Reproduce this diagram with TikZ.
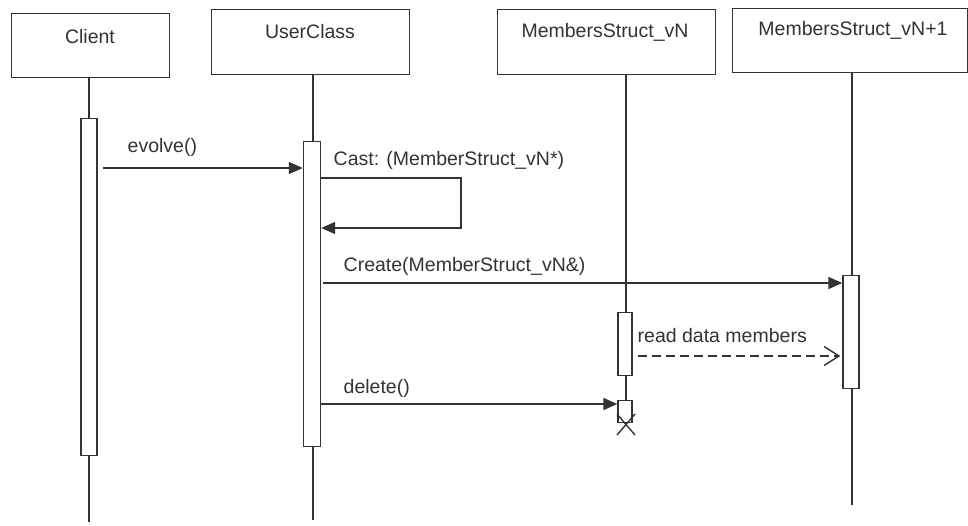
\documentclass[tikz,border=0pt]{standalone}
\usepackage{fontspec}
\setmainfont{Liberation Sans}
\usetikzlibrary{arrows.meta,calc}
\definecolor{ink}{HTML}{333333}
\begin{document}
\begin{tikzpicture}[x=1pt,y=-1pt,line width=1.4pt,
  hdr/.style={draw=ink,fill=white,rectangle,inner sep=0pt,anchor=north west},
  act/.style={draw=ink,fill=white,rectangle,inner sep=0pt,anchor=north},
  lbl/.style={text=ink,inner sep=0pt,font=\fontsize{19.5}{23}\selectfont},
  life/.style={draw=ink},
  msg/.style={draw=ink,-{Triangle[length=14pt,width=12pt]}},
  reply/.style={draw=ink,dash pattern=on 9pt off 5pt,-{Straight Barb[length=15pt,width=19pt,line width=1.4pt]}}]
\useasboundingbox (0,0) rectangle (968,525);
% headers
\node[hdr,minimum width=158pt,minimum height=64pt] (client) at (11,13) {};
\node[hdr,minimum width=198pt,minimum height=65pt] (user) at (211,9) {};
\node[hdr,minimum width=218pt,minimum height=65pt] (vn) at (497,9) {};
\node[hdr,minimum width=235pt,minimum height=64pt] (vn1) at (732,8) {};
\node[lbl,anchor=base] (clientT) at (90,43) {Client};
\node[lbl,anchor=base] (userT) at (310,38) {UserClass};
\node[lbl,anchor=base] (vnT) at (605,37) {MembersStruct\_vN};
\node[lbl,anchor=base] (vn1T) at (853,35) {MembersStruct\_vN+1};
% activation bars
\node[act,minimum width=16pt,minimum height=337pt] (ca) at (89,118) {};
\node[act,minimum width=17pt,minimum height=305pt] (ua) at (312,141) {};
\node[act,minimum width=14pt,minimum height=63pt] (va) at (625,312) {};
\node[act,minimum width=14pt,minimum height=22pt] (vd) at (625,400) {};
\node[act,minimum width=16pt,minimum height=113pt] (wa) at (851,275) {};
% lifeline ends
\coordinate (cend) at (89,522);
\coordinate (uend) at (313,520);
\coordinate (wend) at (852,505);
% lifelines
\draw[life] (ca.north |- client.south) -- (ca.north);
\draw[life] (ca.south) -- (cend);
\draw[life] (313,74) coordinate (utop) -- (utop |- ua.north);
\draw[life] (uend |- ua.south) -- (uend);
\draw[life] (626,74) coordinate (vtop) -- (vtop |- va.north);
\draw[life] (vtop |- va.south) -- (vtop |- vd.north);
\draw[life] (852,72) coordinate (wtop) -- (wtop |- wa.north);
\draw[life] (wtop |- wa.south) -- (wend);
% destruction X
\coordinate (xc) at (626,424.5);
\draw[draw=ink] ($(xc)+(-9,-10.5)$) -- ($(xc)+(9,10.5)$);
\draw[draw=ink] ($(xc)+(9,-10.5)$) -- ($(xc)+(-9,10.5)$);
% messages
\coordinate (y1) at (0,168);
\coordinate (y2) at (0,178);
\coordinate (y3) at (0,228);
\coordinate (selfc) at (461,200);
\coordinate (y4) at (0,283);
\coordinate (y5) at (0,356);
\coordinate (y6) at (0,404);
\draw[msg] ($(ca.east |- y1)+(5,0)$) -- (ua.west |- y1);
\node[lbl,anchor=base west] (evT) at (127,152) {evolve()};
\draw[draw=ink,-{Triangle[length=14pt,width=12pt]}] (ua.east |- y2) -| (selfc) |- (ua.east |- y3);
\node[lbl,anchor=base west] (castT) at (333,165) {Cast: (MemberStruct\_vN*)};
\draw[msg] ($(ua.east |- y4)+(2,0)$) -- (wa.west |- y4);
\node[lbl,anchor=base west] (createT) at (343,271) {Create(MemberStruct\_vN\&)};
\draw[reply] ($(va.east |- y5)+(5,0)$) -- ($(wa.west |- y5)+(-2,0)$);
\node[lbl,anchor=base west] (readT) at (637,342) {read data members};
\draw[msg] (ua.east |- y6) -- (vd.west |- y6);
\node[lbl,anchor=base west] (delT) at (343,393) {delete()};
\end{tikzpicture}
\end{document}
